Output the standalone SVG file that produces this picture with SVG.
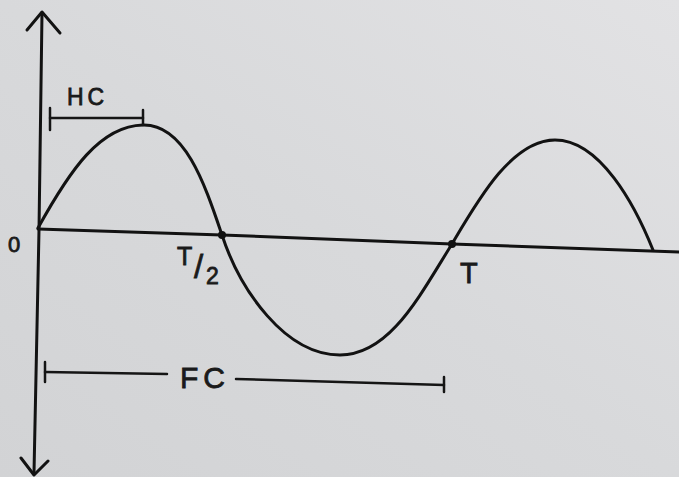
<svg xmlns="http://www.w3.org/2000/svg" width="679" height="477" viewBox="0 0 679 477">
  <defs>
    <linearGradient id="paper" x1="0" y1="1" x2="1" y2="0">
      <stop offset="0" stop-color="#d2d3d5"/>
      <stop offset="0.5" stop-color="#d8d9db"/>
      <stop offset="1" stop-color="#e2e2e4"/>
    </linearGradient>
    <style>
      .ink { fill: none; stroke: #121212; stroke-width: 3; stroke-linecap: round; stroke-linejoin: round; }
      .thin { fill: none; stroke: #151515; stroke-width: 2.5; stroke-linecap: round; stroke-linejoin: round; }
      .lbl { font-family: "Liberation Sans", "DejaVu Sans", sans-serif; fill: #1a1a1a; stroke: #1a1a1a; stroke-width: 0.8; }
      .dot { fill: #111; }
    </style>
  </defs>
  <rect x="0" y="0" width="679" height="477" fill="url(#paper)"/>

  <g id="axes">
    <path class="ink" d="M42,13 L39,230 L34,473"/>
    <path class="ink" d="M27,30 L42,12 L60,33"/>
    <path class="ink" d="M21,458 L34,475 L48,461"/>
    <path class="ink" d="M38,229 L222,235 L452,244 L679,252"/>
  </g>

  <g id="wave">
    <path class="ink" d="M38,228 C70,170 100,126 143,125 C185,124 205,185 222,235 C240,290 285,355 340,355 C390,355 420,295 452,244 C478,200 512,140 555,140 C600,140 635,205 653,250"/>
    <circle class="dot" cx="222" cy="235" r="4"/>
    <circle class="dot" cx="452" cy="244" r="4"/>
  </g>

  <g id="hc">
    <path class="thin" d="M50,108 L50,130"/>
    <path class="thin" d="M50,118 L143,118"/>
    <path class="thin" d="M143,110 L143,125"/>
    <text class="lbl" x="67" y="105" font-size="23" letter-spacing="4">HC</text>
  </g>

  <g id="fc">
    <path class="thin" d="M45,362 L45,382"/>
    <path class="thin" d="M45,372 L167,374"/>
    <path class="thin" d="M236,379 L444,385"/>
    <path class="thin" d="M444,377 L444,392"/>
    <text class="lbl" x="180" y="388" font-size="30" letter-spacing="5">FC</text>
  </g>

  <g id="labels">
    <text class="lbl" x="8" y="252" font-size="22">0</text>
    <text class="lbl" x="177" y="265" font-size="25">T</text>
    <text class="lbl" x="194" y="278" font-size="33">/</text>
    <text class="lbl" x="206" y="284" font-size="23">2</text>
    <text class="lbl" x="460" y="283" font-size="29">T</text>
  </g>
</svg>
